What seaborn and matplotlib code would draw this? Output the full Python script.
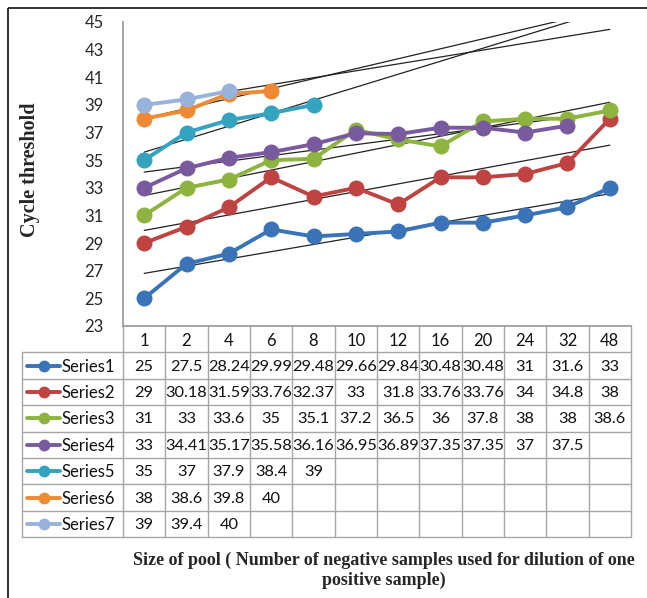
import numpy as np
import pandas as pd
import matplotlib
matplotlib.use("Agg")
import matplotlib.pyplot as plt
from matplotlib.patches import Rectangle
import seaborn as sns

categories = ["1", "2", "4", "6", "8", "10", "12", "16", "20", "24", "32", "48"]
series_names = ["Series1", "Series2", "Series3", "Series4", "Series5", "Series6", "Series7"]
s1 = [25, 27.5, 28.24, 29.99, 29.48, 29.66, 29.84, 30.48, 30.48, 31, 31.6, 33]
s2 = [29, 30.18, 31.59, 33.76, 32.37, 33, 31.8, 33.76, 33.76, 34, 34.8, 38]
s3 = [31, 33, 33.6, 35, 35.1, 37.2, 36.5, 36, 37.8, 38, 38, 38.6]
s4 = [33, 34.41, 35.17, 35.58, 36.16, 36.95, 36.89, 37.35, 37.35, 37, 37.5]
s5 = [35, 37, 37.9, 38.4, 39]
s6 = [38, 38.6, 39.8, 40]
s7 = [39, 39.4, 40]
series_values = [s1, s2, s3, s4, s5, s6, s7]
yticks = list(range(23, 46, 2))
colors = ["#3A73B8", "#BE4341", "#8DB43E", "#7A5A9E", "#33A3BF", "#EE8A33", "#98B2DC"]

rows = []
for name, vals in zip(series_names, series_values):
    for i, v in enumerate(vals):
        rows.append({"series": name, "pos": i, "ct": v})
df = pd.DataFrame(rows)

sns.set_theme(style="white")
plt.rcParams["font.family"] = ["Lato", "DejaVu Sans"]

W, H = 647, 598
fig = plt.figure(figsize=(W / 100, H / 100), dpi=100)

def fx(px):
    return px / W

def fy(py):
    return 1 - py / H

L, R, T, B = 123, 631, 22, 326
ax = fig.add_axes([fx(L), fy(B), fx(R) - fx(L), fy(T) - fy(B)])

n = len(categories)
# linear trendlines
xs = np.arange(n)
for vals in series_values:
    xi = np.arange(len(vals))
    k, b = np.polyfit(xi, vals, 1)
    ax.plot(xs, k * xs + b, color="#222222", lw=0.9, zorder=1, clip_on=True)

sns.lineplot(data=df, x="pos", y="ct", hue="series", hue_order=series_names,
             palette=colors, marker="o", markersize=11.5, markeredgewidth=0,
             linewidth=2.8, legend=False, ax=ax, zorder=3)

ax.set_xlim(-0.5, n - 0.5)
ax.set_ylim(23, 45)
ax.set_yticks(yticks)
ax.set_yticklabels([str(t) for t in yticks], fontsize=12)
ax.set_xticks([])
ax.set_xlabel("")
ax.set_ylabel("")
ax.tick_params(axis="y", length=0, pad=14)
for s in ["top", "right"]:
    ax.spines[s].set_visible(False)
ax.spines["left"].set_color("#9a9a9a")
ax.spines["bottom"].set_color("#9a9a9a")

# data table
tb = fig.add_axes([0, 0, 1, 1], zorder=-1)
tb.set_xlim(0, W)
tb.set_ylim(H, 0)
tb.axis("off")
gc = "#a6a6a6"
TL = 22
rowh = 26.4
ytop = B
colw = (R - L) / n
nrows = 1 + len(series_names)
ybot = ytop + rowh * nrows
for r in range(1, nrows + 1):
    y = ytop + rowh * r
    tb.plot([TL, R], [y, y], color=gc, lw=1)
tb.plot([TL, TL], [ytop + rowh, ybot], color=gc, lw=1)
for c in range(n + 1):
    x = L + colw * c
    tb.plot([x, x], [ytop, ybot], color=gc, lw=1)
for c, cat in enumerate(categories):
    tb.text(L + colw * (c + 0.5), ytop + rowh * 0.55, cat, ha="center", va="center",
            fontsize=12, color="#111111")
for r, (name, vals, col) in enumerate(zip(series_names, series_values, colors)):
    yc = ytop + rowh * (r + 1.5)
    tb.plot([27, 60], [yc, yc], color=col, lw=2.8)
    tb.plot([43.5], [yc], marker="o", color=col, markersize=8.5, markeredgewidth=0)
    tb.text(61, yc + 1, name, ha="left", va="center", fontsize=12, color="#111111")
    for c, v in enumerate(vals):
        tb.text(L + colw * (c + 0.5), yc + 1, f"{v:g}", ha="center", va="center",
                fontsize=11.8, color="#111111")

# outer border
tb.add_patch(Rectangle((8, 8), 700, 700, fill=False, edgecolor="#222222", lw=1.3))

serif = ["Liberation Serif", "DejaVu Serif"]
fig.text(fx(30), fy(170), "Cycle threshold", rotation=90, ha="center", va="center",
         fontsize=14.5, fontweight="bold", family=serif)
fig.text(fx(384), fy(560), "Size of pool ( Number of negative samples used for dilution of one",
         ha="center", va="center", fontsize=13, fontweight="bold", family=serif)
fig.text(fx(384), fy(580), "positive sample)", ha="center", va="center",
         fontsize=13, fontweight="bold", family=serif)

fig.savefig("out.png", dpi=100)
